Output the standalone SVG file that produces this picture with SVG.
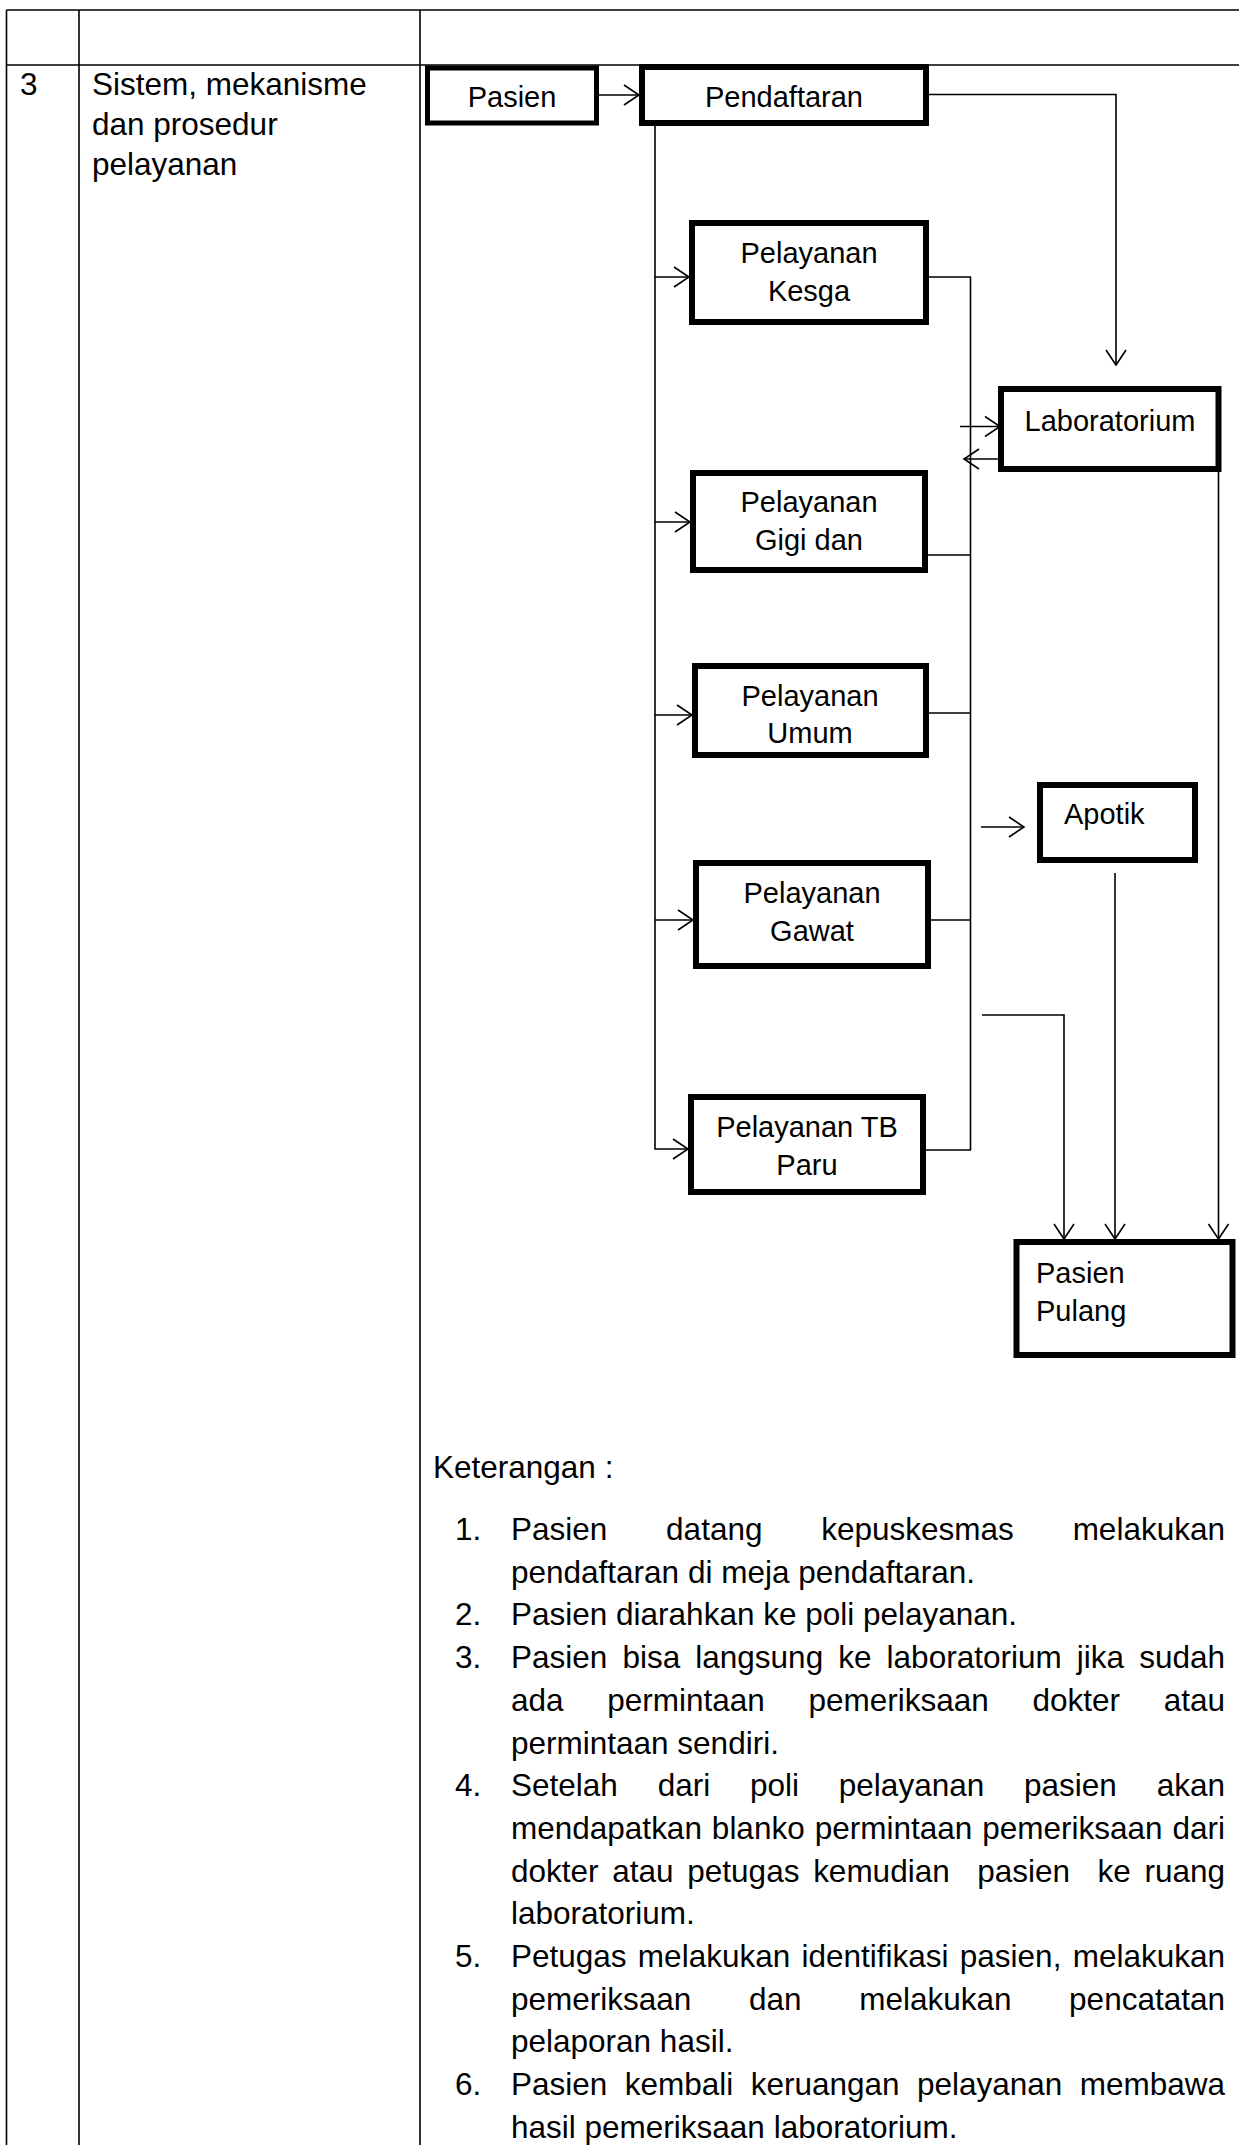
<svg xmlns="http://www.w3.org/2000/svg" width="1239" height="2145" viewBox="0 0 1239 2145">
<style>
.t{font-family:"Liberation Sans",Arial,sans-serif;font-size:31.5px;fill:#000}
.n{font-family:"Liberation Sans",Arial,sans-serif;font-size:29px;fill:#000;text-anchor:middle}
.ns{font-family:"Liberation Sans",Arial,sans-serif;font-size:29px;fill:#000}
.box{fill:#fff;stroke:#000;stroke-width:6}
.grid{stroke:#000;stroke-width:1.6;fill:none}
.c{stroke:#000;stroke-width:1.6;fill:none}
.a{marker-end:url(#arr)}
</style>
<defs>
<marker id="arr" markerUnits="userSpaceOnUse" viewBox="0 -2 18 24" markerWidth="18" markerHeight="24" refX="16" refY="10" orient="auto">
<path d="M1,0 L16,10 L1,20" fill="none" stroke="#000" stroke-width="1.6"/>
</marker>
</defs>
<rect width="1239" height="2145" fill="#fff"/>
<g id="table">
<path class="grid" d="M6.5,10 H1239 M6.5,65 H1239 M6.5,10 V2145 M79,10 V2145 M420,10 V2145"/>
<text class="t" x="20" y="95">3</text>
<text class="t" x="92" y="95">Sistem, mekanisme</text>
<text class="t" x="92" y="135">dan prosedur</text>
<text class="t" x="92" y="175">pelayanan</text>
</g>
<g id="connectors">
<path class="c a" d="M599,95 H639"/>
<path class="c a" d="M929,94.5 H1116 V365"/>
<path class="c a" d="M655,126 V1149 H688"/>
<path class="c a" d="M655,277 H689"/>
<path class="c a" d="M655,522 H690"/>
<path class="c a" d="M655,715 H692"/>
<path class="c a" d="M655,920 H693"/>
<path class="c" d="M929,277 H971 M928,555 H971 M929,713 H971 M931,920 H971 M926,1150 H971 M970.5,277 V1150"/>
<path class="c a" d="M960,426.5 H1000"/>
<path class="c a" d="M1006,459 H964"/>
<path class="c a" d="M981,827 H1024"/>
<path class="c a" d="M982,1015 H1064 V1239"/>
<path class="c a" d="M1115,873 V1239"/>
<path class="c a" d="M1218.5,472 V1239"/>
</g>
<g id="pasien">
<rect class="box" x="427.5" y="68" width="169" height="55" style="stroke-width:5"/>
<text class="n" x="512" y="107">Pasien</text>
</g>
<g id="pendaftaran">
<rect class="box" x="642" y="67" width="284" height="56"/>
<text class="n" x="784" y="107">Pendaftaran</text>
</g>
<g id="kesga">
<rect class="box" x="692" y="223" width="234" height="99"/>
<text class="n" x="809" y="263">Pelayanan</text>
<text class="n" x="809" y="301">Kesga</text>
</g>
<g id="laboratorium">
<rect class="box" x="1001" y="389" width="217.5" height="80"/>
<text class="n" x="1110" y="431">Laboratorium</text>
</g>
<g id="gigi">
<rect class="box" x="693" y="473" width="232" height="97"/>
<text class="n" x="809" y="512">Pelayanan</text>
<text class="n" x="809" y="550">Gigi dan</text>
</g>
<g id="umum">
<rect class="box" x="695" y="666" width="231" height="89"/>
<text class="n" x="810" y="706">Pelayanan</text>
<text class="n" x="810" y="743">Umum</text>
</g>
<g id="apotik">
<rect class="box" x="1040" y="785" width="155" height="75"/>
<text class="ns" x="1064" y="824">Apotik</text>
</g>
<g id="gawat">
<rect class="box" x="696" y="863" width="232" height="103"/>
<text class="n" x="812" y="903">Pelayanan</text>
<text class="n" x="812" y="941">Gawat</text>
</g>
<g id="tbparu">
<rect class="box" x="691" y="1097" width="232" height="95"/>
<text class="n" x="807" y="1137">Pelayanan TB</text>
<text class="n" x="807" y="1175">Paru</text>
</g>
<g id="pulang">
<rect class="box" x="1016.5" y="1242" width="216" height="113"/>
<text class="ns" x="1036" y="1283">Pasien</text>
<text class="ns" x="1036" y="1321">Pulang</text>
</g>
<g id="keterangan">
<text class="t" x="433" y="1478">Keterangan :</text>
<text class="t" x="455" y="1540">1.</text>
<text class="t" x="511" y="1540" style="word-spacing:50px" textLength="714" lengthAdjust="spacing">Pasien datang kepuskesmas melakukan</text>
<text class="t" x="511" y="1582.7">pendaftaran di meja pendaftaran.</text>
<text class="t" x="455" y="1625.4">2.</text>
<text class="t" x="511" y="1625.4">Pasien diarahkan ke poli pelayanan.</text>
<text class="t" x="455" y="1668.1">3.</text>
<text class="t" x="511" y="1668.1" style="word-spacing:6.3px" textLength="714" lengthAdjust="spacing">Pasien bisa langsung ke laboratorium jika sudah</text>
<text class="t" x="511" y="1710.8" style="word-spacing:34.9px" textLength="714" lengthAdjust="spacing">ada permintaan pemeriksaan dokter atau</text>
<text class="t" x="511" y="1753.5">permintaan sendiri.</text>
<text class="t" x="455" y="1796.2">4.</text>
<text class="t" x="511" y="1796.2" style="word-spacing:31px" textLength="714" lengthAdjust="spacing">Setelah dari poli pelayanan pasien akan</text>
<text class="t" x="511" y="1838.9" style="word-spacing:1.2px" textLength="714" lengthAdjust="spacing">mendapatkan blanko permintaan pemeriksaan dari</text>
<text class="t" x="511" y="1881.6" style="word-spacing:5px" textLength="714" lengthAdjust="spacing" xml:space="preserve">dokter atau petugas kemudian  pasien  ke ruang</text>
<text class="t" x="511" y="1924.3">laboratorium.</text>
<text class="t" x="455" y="1967">5.</text>
<text class="t" x="511" y="1967" style="word-spacing:2.5px" textLength="714" lengthAdjust="spacing">Petugas melakukan identifikasi pasien, melakukan</text>
<text class="t" x="511" y="2009.7" style="word-spacing:48.9px" textLength="714" lengthAdjust="spacing">pemeriksaan dan melakukan pencatatan</text>
<text class="t" x="511" y="2052.4">pelaporan hasil.</text>
<text class="t" x="455" y="2095.1">6.</text>
<text class="t" x="511" y="2095.1" style="word-spacing:8.7px" textLength="714" lengthAdjust="spacing">Pasien kembali keruangan pelayanan membawa</text>
<text class="t" x="511" y="2137.8">hasil pemeriksaan laboratorium.</text>
</g>
</svg>
